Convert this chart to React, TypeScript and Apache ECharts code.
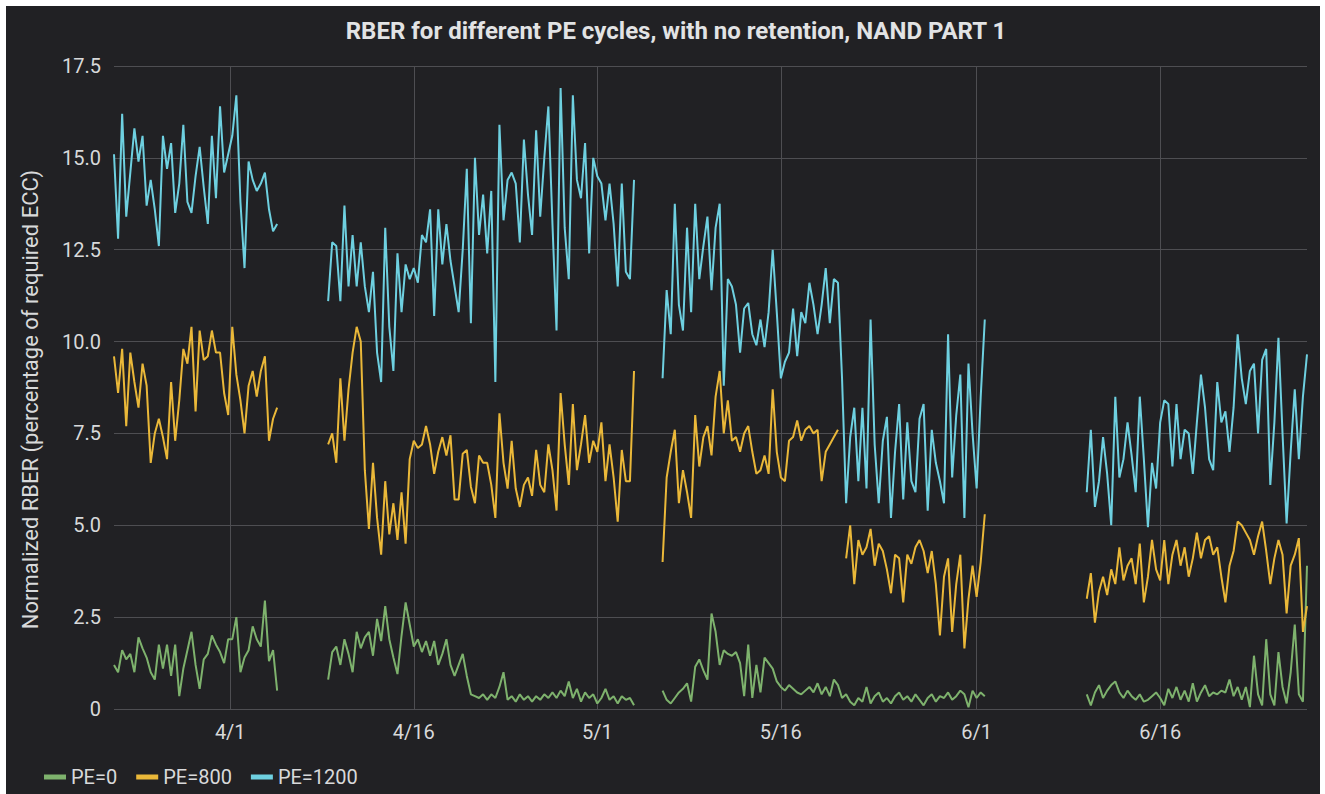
import React, { useEffect, useRef } from 'react';
import * as echarts from 'echarts';

const TITLE = 'RBER for different PE cycles, with no retention, NAND PART 1';
const Y_NAME = 'Normalized RBER (percentage of required ECC)';
const SERIES_NAMES = ['PE=0', 'PE=800', 'PE=1200'];
const SERIES_COLORS = ['#7eb26d', '#eab839', '#6ed0e0'];
const X_TICKS = ['2019-04-01', '2019-04-16', '2019-05-01', '2019-05-16', '2019-06-01', '2019-06-16'];
const X_MIN = '2019-03-22T12:00:00Z';
const X_MAX = '2019-06-28T00:00:00Z';
const Y_MIN = 0;
const Y_MAX = 17.5;
const Y_STEP = 2.5;
const STEP_HOURS = 8;

// sampling runs (start of each run, 8-hour samples)
const RUN1_START = '2019-03-22T12:00:00Z';
const RUN2_START = '2019-04-09T00:00:00Z';
const RUN3_START = '2019-05-06T08:00:00Z';
const RUN3B_START = '2019-05-21T08:00:00Z';
const RUN4_START = '2019-06-10T00:00:00Z';

// PE=0
const pe0Run1 = [1.2, 1.0, 1.6, 1.35, 1.5, 1.0, 1.95, 1.65, 1.4, 1.0, 0.8, 1.75, 1.1, 1.75, 0.9, 1.75, 0.35, 1.1, 1.6, 2.1, 1.2, 0.55, 1.35, 1.5, 2.0, 1.75, 1.55, 1.25, 1.9, 1.9, 2.5, 1.0, 1.4, 1.6, 2.25, 1.9, 1.7, 2.95, 1.3, 1.6, 0.5];
const pe0Run2 = [0.8, 1.55, 1.7, 1.2, 1.9, 1.5, 1.0, 2.1, 1.65, 1.95, 2.1, 1.45, 2.45, 1.85, 2.8, 1.9, 1.4, 0.95, 2.0, 2.9, 2.3, 1.7, 1.9, 1.55, 1.85, 1.45, 1.85, 1.2, 1.5, 1.9, 1.2, 0.9, 1.2, 1.5, 0.9, 0.4, 0.35, 0.3, 0.4, 0.25, 0.4, 0.3, 0.6, 1.0, 0.25, 0.35, 0.2, 0.4, 0.25, 0.35, 0.2, 0.35, 0.25, 0.4, 0.3, 0.45, 0.3, 0.5, 0.35, 0.75, 0.3, 0.55, 0.2, 0.45, 0.3, 0.4, 0.15, 0.3, 0.55, 0.25, 0.35, 0.15, 0.35, 0.25, 0.3, 0.1];
const pe0Run3 = [0.5, 0.25, 0.15, 0.3, 0.45, 0.55, 0.7, 0.2, 1.15, 1.35, 1.05, 0.8, 2.6, 2.1, 1.2, 1.6, 1.5, 1.45, 1.55, 1.25, 0.35, 1.75, 0.3, 1.2, 0.45, 1.4, 1.25, 1.1, 0.75, 0.6, 0.5, 0.65, 0.55, 0.45, 0.4, 0.5, 0.6, 0.45, 0.7, 0.4, 0.6, 0.35, 0.8, 0.65, 0.3, 0.4, 0.2, 0.1, 0.3, 0.2, 0.6, 0.15, 0.35, 0.45, 0.2, 0.3, 0.15, 0.35, 0.45, 0.25, 0.35, 0.2, 0.4, 0.25, 0.1, 0.3, 0.4, 0.2, 0.35, 0.3, 0.45, 0.25, 0.35, 0.5, 0.4, 0.05, 0.5, 0.3, 0.45, 0.35];
const pe0Run4 = [0.4, 0.1, 0.45, 0.65, 0.3, 0.5, 0.65, 0.75, 0.45, 0.3, 0.5, 0.35, 0.25, 0.4, 0.2, 0.25, 0.35, 0.45, 0.3, 0.1, 0.55, 0.3, 0.6, 0.25, 0.5, 0.2, 0.7, 0.2, 0.45, 0.65, 0.35, 0.45, 0.4, 0.5, 0.45, 0.8, 0.35, 0.6, 0.25, 0.6, 0.05, 1.45, 0.4, 0.1, 1.9, 0.4, 0.1, 1.55, 0.6, 0.15, 1.0, 2.3, 0.4, 0.2, 3.9];

// PE=800
const pe800Run1 = [9.6, 8.6, 9.8, 7.7, 9.7, 8.9, 8.2, 9.4, 8.8, 6.7, 7.5, 7.9, 7.4, 6.8, 8.9, 7.3, 8.4, 9.8, 9.4, 10.4, 8.1, 10.3, 9.5, 9.6, 10.3, 9.7, 9.7, 8.6, 8.0, 10.4, 9.1, 8.4, 7.5, 8.8, 9.2, 8.5, 9.2, 9.6, 7.3, 7.9, 8.2];
const pe800Run2 = [7.2, 7.5, 6.7, 9.0, 7.3, 8.7, 9.7, 10.4, 10.0, 6.5, 4.9, 6.7, 5.2, 4.2, 6.2, 4.75, 5.6, 4.6, 5.9, 4.5, 6.8, 7.3, 7.1, 7.2, 7.7, 7.2, 6.4, 7.0, 7.4, 6.9, 7.45, 5.7, 5.7, 6.95, 7.05, 6.05, 5.6, 6.9, 6.7, 6.7, 6.1, 5.2, 8.05, 6.7, 6.0, 7.3, 6.0, 5.5, 6.1, 6.3, 5.8, 7.05, 6.1, 5.9, 7.2, 6.5, 5.4, 8.6, 7.2, 6.1, 8.3, 6.5, 7.2, 8.0, 6.7, 7.3, 7.0, 7.8, 6.2, 7.2, 6.3, 5.1, 7.05, 6.2, 6.2, 9.2];
const pe800Run3 = [4.0, 6.3, 7.0, 7.6, 5.6, 6.5, 5.9, 5.2, 8.0, 6.6, 7.4, 7.7, 6.9, 8.5, 9.2, 7.5, 8.4, 7.3, 7.4, 7.0, 7.5, 7.7, 7.0, 6.4, 6.5, 6.9, 6.4, 8.7, 7.0, 6.3, 6.2, 7.3, 7.4, 7.85, 7.3, 7.6, 7.7, 7.5, 7.6, 6.2, 7.0, 7.2, 7.4, 7.6];
const pe800Run3b = [4.1, 5.0, 3.4, 4.6, 4.2, 4.4, 4.9, 3.9, 4.5, 4.3, 3.8, 3.15, 4.2, 4.1, 2.9, 4.2, 3.95, 4.4, 4.6, 4.3, 3.7, 4.3, 3.4, 2.0, 3.6, 4.1, 2.1, 3.4, 4.2, 1.65, 3.0, 3.9, 3.05, 4.0, 5.3];
const pe800Run4 = [3.0, 3.7, 2.35, 3.2, 3.6, 3.1, 3.8, 3.4, 4.4, 3.5, 3.9, 4.1, 3.4, 4.5, 2.9, 3.6, 4.6, 3.8, 3.5, 4.6, 3.4, 4.2, 4.6, 3.9, 4.4, 3.6, 4.1, 4.8, 4.1, 4.6, 4.7, 4.2, 4.4, 3.6, 2.9, 3.9, 4.3, 5.1, 5.0, 4.8, 4.6, 4.2, 4.7, 5.1, 4.3, 3.4, 4.1, 4.6, 4.2, 2.6, 3.9, 4.2, 4.65, 2.1, 2.8];

// PE=1200
const pe1200Run1 = [15.1, 12.8, 16.2, 13.4, 14.6, 15.8, 14.9, 15.6, 13.7, 14.4, 13.6, 12.6, 15.6, 14.7, 15.4, 13.5, 14.3, 15.9, 13.8, 13.5, 14.5, 15.3, 14.2, 13.2, 15.6, 13.9, 16.4, 14.6, 15.1, 15.6, 16.7, 13.8, 12.0, 14.9, 14.4, 14.1, 14.3, 14.6, 13.6, 13.0, 13.2];
const pe1200Run2 = [11.1, 12.7, 12.6, 11.1, 13.7, 11.5, 12.9, 11.5, 12.7, 11.5, 10.8, 11.9, 9.7, 8.9, 13.1, 10.4, 9.2, 12.4, 10.8, 12.1, 11.7, 12.0, 11.6, 12.9, 12.7, 13.6, 10.7, 13.6, 12.1, 13.2, 12.2, 11.5, 10.8, 12.5, 14.7, 10.5, 15.0, 12.9, 14.0, 12.4, 14.1, 8.9, 15.9, 13.3, 14.4, 14.6, 14.3, 12.7, 15.5, 14.0, 12.9, 15.75, 13.4, 15.0, 16.4, 13.2, 10.3, 16.9, 13.1, 11.7, 16.7, 14.4, 13.9, 15.4, 12.4, 15.0, 14.5, 14.3, 13.3, 14.3, 13.2, 11.5, 14.3, 11.9, 11.7, 14.4];
const pe1200Run3 = [9.0, 11.4, 10.2, 13.75, 11.0, 10.3, 13.1, 10.8, 13.75, 11.7, 12.6, 13.4, 11.4, 13.1, 13.75, 8.8, 11.7, 11.5, 11.0, 9.7, 10.9, 11.05, 10.2, 9.9, 10.6, 9.85, 10.8, 12.5, 10.8, 9.0, 9.45, 9.7, 10.9, 9.6, 10.8, 10.5, 11.6, 11.0, 10.2, 11.0, 12.0, 10.5, 11.7, 11.6, 9.0, 5.6, 7.4, 8.2, 6.2, 8.2, 6.0, 10.6, 7.2, 5.6, 7.3, 7.95, 5.2, 7.0, 8.3, 5.7, 7.8, 6.2, 5.9, 7.9, 8.3, 5.4, 7.6, 6.7, 6.2, 5.6, 10.2, 6.3, 8.0, 9.1, 5.2, 9.4, 7.5, 6.0, 8.5, 10.6];
const pe1200Run4 = [5.9, 7.6, 5.5, 6.2, 7.4, 6.4, 5.0, 8.5, 6.3, 6.8, 7.8, 6.9, 5.9, 8.5, 6.8, 4.95, 6.7, 6.0, 7.8, 8.4, 8.3, 6.6, 8.3, 6.8, 7.6, 7.5, 6.4, 7.8, 9.1, 8.2, 6.8, 6.5, 8.9, 7.8, 8.1, 7.0, 8.2, 10.2, 9.0, 8.3, 9.2, 9.4, 7.5, 9.5, 9.8, 6.1, 7.8, 10.1, 7.5, 5.05, 7.0, 8.7, 6.8, 8.5, 9.65];

const BG = '#212124';
const TEXT = '#d8d9da';
const GRID = '#4e4e52';
const FONT = 'Roboto';

const STEP_MS = STEP_HOURS * 3600 * 1000;

function buildData(runs: [string, number[]][]) {
  const out: (number | null)[][] = [];
  runs.forEach(([start, values], idx) => {
    const t0 = Date.parse(start);
    if (idx > 0) out.push([t0 - STEP_MS / 2, null]);
    values.forEach((v, i) => out.push([t0 + i * STEP_MS, v]));
  });
  return out;
}

const fmtDate = (v: number) => {
  const d = new Date(v);
  return `${d.getUTCMonth() + 1}/${d.getUTCDate()}`;
};

export default function App() {
  const ref = useRef<HTMLDivElement>(null);
  useEffect(() => {
    if (!ref.current) return;
    const chart = echarts.init(ref.current, null, { renderer: 'svg' });
    const ticks = X_TICKS.map((s) => Date.parse(s));
    const seriesRuns: [string, number[]][][] = [
      [[RUN1_START, pe0Run1], [RUN2_START, pe0Run2], [RUN3_START, pe0Run3], [RUN4_START, pe0Run4]],
      [[RUN1_START, pe800Run1], [RUN2_START, pe800Run2], [RUN3_START, pe800Run3], [RUN3B_START, pe800Run3b], [RUN4_START, pe800Run4]],
      [[RUN1_START, pe1200Run1], [RUN2_START, pe1200Run2], [RUN3_START, pe1200Run3], [RUN4_START, pe1200Run4]],
    ];
    chart.setOption({
      animation: false,
      backgroundColor: BG,
      textStyle: { fontFamily: FONT },
      title: {
        text: TITLE,
        left: 665,
        textAlign: 'center',
        top: 8,
        textStyle: { color: '#e2e3e4', fontSize: 24, fontWeight: 'bold', fontFamily: FONT },
      },
      legend: {
        data: SERIES_NAMES,
        left: 33,
        top: 756,
        icon: 'rect',
        itemWidth: 22,
        itemHeight: 5,
        itemGap: 19,
        textStyle: { color: TEXT, fontSize: 20, fontFamily: FONT },
      },
      grid: { left: 108, right: 13, top: 60, bottom: 85, containLabel: false },
      xAxis: {
        type: 'value',
        min: Date.parse(X_MIN),
        max: Date.parse(X_MAX),
        axisLine: { show: false },
        axisTick: { show: false, customValues: ticks },
        axisLabel: {
          customValues: ticks,
          formatter: fmtDate,
          color: TEXT,
          fontSize: 20,
          fontFamily: FONT,
          margin: 13,
          showMinLabel: true,
          showMaxLabel: true,
        },
        splitLine: { show: true, lineStyle: { color: GRID, width: 1 } },
      },
      yAxis: {
        type: 'value',
        min: Y_MIN,
        max: Y_MAX,
        interval: Y_STEP,
        name: Y_NAME,
        nameLocation: 'middle',
        nameRotate: 90,
        nameGap: 73,
        nameTextStyle: { color: TEXT, fontSize: 22, fontFamily: FONT, padding: [0, 24, 0, 0] },
        axisLine: { show: false },
        axisTick: { show: false },
        axisLabel: {
          color: TEXT,
          fontSize: 20,
          fontFamily: FONT,
          margin: 13,
          formatter: (v: number) => (v === 0 ? '0' : v.toFixed(1)),
        },
        splitLine: { show: true, lineStyle: { color: GRID, width: 1 } },
      },
      series: SERIES_NAMES.map((name, i) => ({
        name,
        type: 'line',
        data: buildData(seriesRuns[i]),
        showSymbol: false,
        symbol: 'none',
        connectNulls: false,
        color: SERIES_COLORS[i],
        lineStyle: { width: 2, color: SERIES_COLORS[i] },
        emphasis: { disabled: true },
        silent: true,
      })),
    });
    return () => chart.dispose();
  }, []);
  return (
    <div style={{ position: 'absolute', left: 0, top: 0, width: 1325, height: 794, background: '#ffffff' }}>
      <div ref={ref} style={{ position: 'absolute', left: 6, top: 6, width: 1314, height: 788, background: BG }} />
    </div>
  );
}
